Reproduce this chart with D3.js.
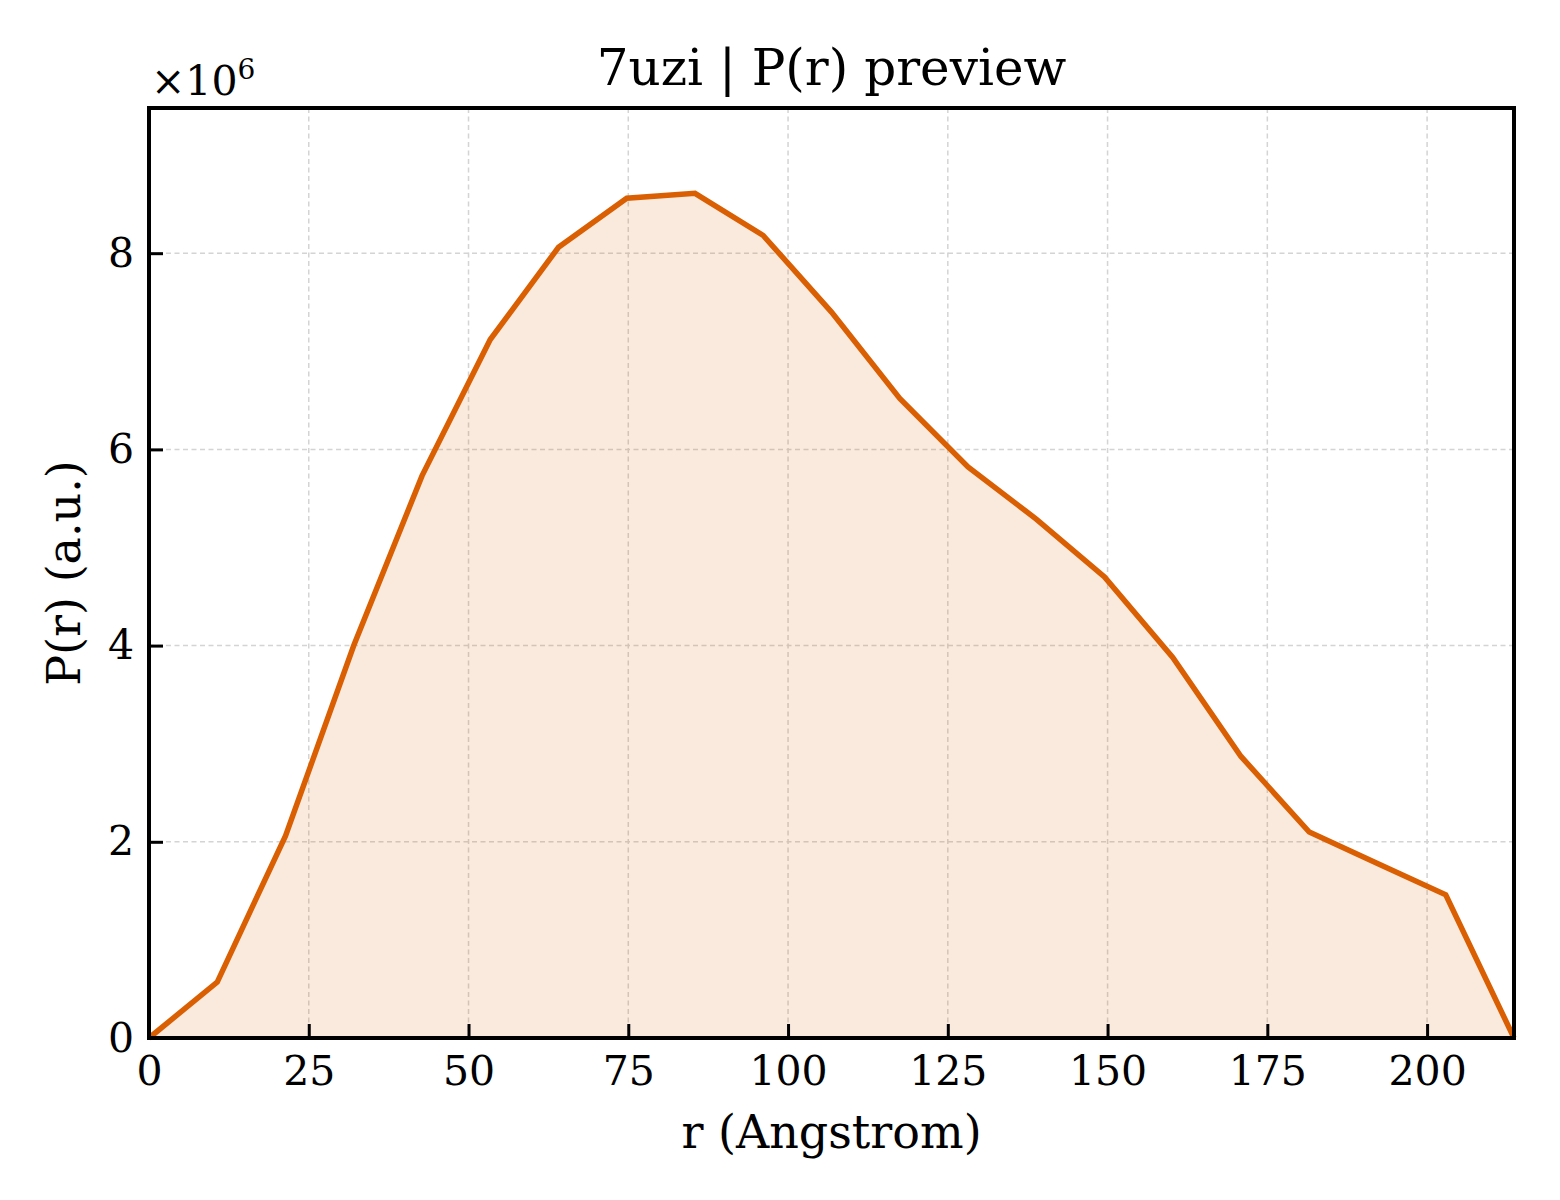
<!DOCTYPE html>
<html>
<head>
<meta charset="utf-8">
<script src="https://cdn.jsdelivr.net/npm/d3@7"></script>
<style>
  body { margin: 0; background: #fff; }
  svg text { font-family: "DejaVu Serif", serif; fill: #000; }
</style>
</head>
<body>
<div id="chart"></div>
<script>
// P(r) curve, values in units of 1e6
const rValues = [0, 10.68, 21.36, 32.04, 42.72, 53.4, 64.08, 74.76, 85.44, 96.12, 106.8,
                 117.48, 128.16, 138.84, 149.52, 160.2, 170.88, 181.56, 192.24, 202.92, 213.6];
const prValues = [0, 0.57, 2.06, 4.0, 5.73, 7.12, 8.06, 8.56, 8.61, 8.18, 7.40,
                  6.52, 5.82, 5.29, 4.70, 3.88, 2.87, 2.10, 1.78, 1.46, 0];
const xTicks = [0, 25, 50, 75, 100, 125, 150, 175, 200];
const yTicks = [0, 2, 4, 6, 8];

const width = 1560, height = 1200;
const margin = {top: 108, right: 46, bottom: 162, left: 149};
const plotW = width - margin.left - margin.right;
const plotH = height - margin.top - margin.bottom;

const svg = d3.select("#chart").append("svg")
  .attr("width", width)
  .attr("height", height);

const g = svg.append("g").attr("transform", `translate(${margin.left},${margin.top})`);

const x = d3.scaleLinear().domain([0, 213.6]).range([0, plotW]);
const y = d3.scaleLinear().domain([0, 9.48]).range([plotH, 0]);

// grid
g.selectAll(".vgrid").data(xTicks.slice(1)).enter().append("line")
  .attr("x1", d => x(d)).attr("x2", d => x(d))
  .attr("y1", 0).attr("y2", plotH)
  .attr("stroke", "#d4d4d4").attr("stroke-width", 1.5).attr("stroke-dasharray", "5,3.5");
g.selectAll(".hgrid").data(yTicks.slice(1)).enter().append("line")
  .attr("x1", 0).attr("x2", plotW)
  .attr("y1", d => y(d)).attr("y2", d => y(d))
  .attr("stroke", "#d4d4d4").attr("stroke-width", 1.5).attr("stroke-dasharray", "5,3.5");

const pts = rValues.map((r, i) => [r, prValues[i]]);

g.append("path").datum(pts)
  .attr("fill", "#d95f02").attr("fill-opacity", 0.13)
  .attr("d", d3.area().x(d => x(d[0])).y0(y(0)).y1(d => y(d[1])));

g.append("path").datum(pts)
  .attr("fill", "none").attr("stroke", "#d95f02").attr("stroke-width", 5.5)
  .attr("stroke-linejoin", "miter")
  .attr("d", d3.line().x(d => x(d[0])).y(d => y(d[1])));

// axes (inward ticks)
const xAxis = g.append("g").attr("transform", `translate(0,${plotH})`)
  .call(d3.axisBottom(x).tickValues(xTicks).tickSizeInner(-14).tickSizeOuter(0).tickPadding(18));
const yAxis = g.append("g")
  .call(d3.axisLeft(y).tickValues(yTicks).tickSizeInner(-14).tickSizeOuter(0).tickPadding(15));
[xAxis, yAxis].forEach(a => {
  a.select(".domain").remove();
  a.selectAll(".tick line").attr("stroke", "#000").attr("stroke-width", 3);
  a.selectAll(".tick text").style("font-size", "41px").style("font-family", "DejaVu Serif");
});
xAxis.selectAll(".tick text").attr("dy", "0.71em");

// frame
g.append("rect").attr("width", plotW).attr("height", plotH)
  .attr("fill", "none").attr("stroke", "#000").attr("stroke-width", 4);

// labels
svg.append("text").attr("x", margin.left + plotW / 2).attr("y", 85)
  .attr("text-anchor", "middle").style("font-size", "50px").text("7uzi | P(r) preview");
svg.append("text").attr("x", margin.left + plotW / 2).attr("y", 1148)
  .attr("text-anchor", "middle").style("font-size", "46px").text("r (Angstrom)");
svg.append("text").attr("transform", `translate(80,${margin.top + plotH / 2}) rotate(-90)`)
  .attr("text-anchor", "middle").style("font-size", "46px").text("P(r) (a.u.)");
const mult = svg.append("text").attr("x", 151).attr("y", 95).style("font-size", "41px");
mult.append("tspan").text("×10");
mult.append("tspan").attr("dy", -16).style("font-size", "28px").text("6");
</script>
</body>
</html>
